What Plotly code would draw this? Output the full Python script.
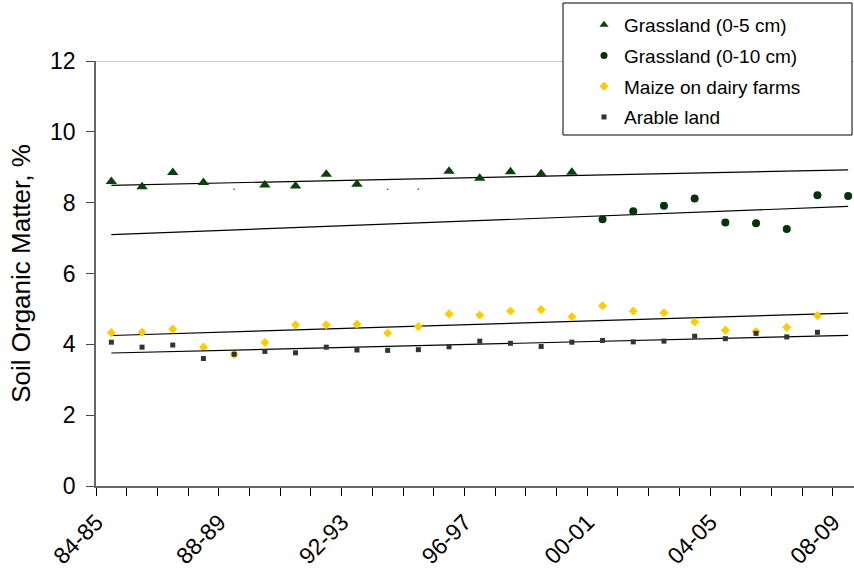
import numpy as np
import plotly.graph_objects as go

seasons = ["84-85", "85-86", "86-87", "87-88", "88-89", "89-90", "90-91", "91-92",
           "92-93", "93-94", "94-95", "95-96", "96-97", "97-98", "98-99", "99-00",
           "00-01", "01-02", "02-03", "03-04", "04-05", "05-06", "06-07", "07-08", "08-09"]
label_every = ["84-85", "88-89", "92-93", "96-97", "00-01", "04-05", "08-09"]

grass5 = [8.60, 8.45, 8.85, 8.57, 8.38, 8.50, 8.47, 8.80, 8.52, 8.38, 8.38, 8.89,
          8.69, 8.87, 8.82, 8.86] + [None] * 9
grass5_faint = [False, False, False, False, True, False, False, False, False, True, True,
                False, False, False, False, False]
grass10 = [None] * 16 + [7.53, 7.76, 7.91, 8.12, 7.44, 7.42, 7.26, 8.21, 8.19]
maize = [4.33, 4.34, 4.43, 3.92, 3.72, 4.05, 4.55, 4.55, 4.57, 4.32, 4.50, 4.86,
         4.83, 4.94, 4.98, 4.78, 5.09, 4.94, 4.89, 4.63, 4.40, 4.36, 4.48, 4.81, None]
arable = [4.06, 3.92, 3.98, 3.60, 3.72, 3.80, 3.76, 3.92, 3.84, 3.83, 3.85, 3.93,
          4.09, 4.03, 3.94, 4.06, 4.11, 4.07, 4.09, 4.23, 4.16, 4.31, 4.21, 4.34, None]

names = ["Grassland (0-5 cm)", "Grassland (0-10 cm)", "Maize on dairy farms", "Arable land"]
colors = ["#0a430a", "#043408", "#FFCC00", "#333333"]
symbols = ["triangle-up", "circle", "diamond", "square"]
sizes = [10, 8, 7, 5]
legend_sizes = [8, 7, 7, 5]

FONT = "Arial, 'Liberation Sans', sans-serif"
idx = list(range(len(seasons)))

fig = go.Figure()

series = [grass5, grass10, maize, arable]
for k, ys in enumerate(series):
    xs = [i for i, v in enumerate(ys) if v is not None]
    vs = [v for v in ys if v is not None]
    # linear trendline across all seasons
    slope, icpt = np.polyfit(xs, vs, 1)
    fig.add_trace(go.Scatter(x=idx, y=[icpt + slope * i for i in idx], mode="lines",
                             line=dict(color="black", width=1.2), showlegend=False,
                             hoverinfo="skip"))
    if k == 0:
        msize = [2 if f else sizes[0] for f in grass5_faint]
        mcol = ["#333333" if f else colors[0] for f in grass5_faint]
    else:
        msize = sizes[k]
        mcol = colors[k]
    fig.add_trace(go.Scatter(x=xs, y=vs, mode="markers", showlegend=False,
                             marker=dict(symbol=symbols[k], size=msize, color=mcol,
                                         opacity=1, line=dict(width=0)),
                             cliponaxis=False))

for k in range(4):
    fig.add_trace(go.Scatter(x=[None], y=[None], mode="markers", name=names[k],
                             legendgroup=names[k],
                             marker=dict(symbol=symbols[k], size=legend_sizes[k],
                                         color=colors[k], opacity=1, line=dict(width=0))))

L, R, T, B = 96, 0, 61, 88
W, H = 854, 574
pw = W - L - R
ph = H - T - B
spacing = 30.7

def px(x):
    return (x - L) / pw

def py(y):
    return (H - B - y) / ph

fig.add_shape(type="line", xref="x domain", yref="y", x0=0, x1=1, y0=12, y1=12,
              line=dict(color="#9a9a9a", width=1), layer="below")
fig.add_shape(type="rect", xref="paper", yref="paper", x0=px(563), x1=px(852),
              y0=py(135), y1=py(3), line=dict(color="black", width=1),
              fillcolor="white", layer="above")

fig.update_layout(
    width=W, height=H,
    margin=dict(l=L, r=R, t=T, b=B, pad=0),
    paper_bgcolor="white", plot_bgcolor="white",
    font=dict(family=FONT, color="black"),
    showlegend=True,
    legend=dict(x=px(584), y=py(6), xanchor="left", yanchor="top",
                font=dict(family=FONT, size=19, color="black"),
                bgcolor="rgba(0,0,0,0)", borderwidth=0,
                tracegroupgap=3, traceorder="grouped"),
    xaxis=dict(range=[-0.5, -0.5 + pw / spacing], showgrid=False, zeroline=False,
               showline=True, linecolor="#666666", linewidth=1.5,
               tickmode="array", tickvals=[seasons.index(s) for s in label_every],
               ticktext=label_every, ticks="", tickangle=-45,
               ticklabelstandoff=12, ticklabelshift=-15, ticklabeloverflow="allow",
               tickfont=dict(family=FONT, size=23, color="black"),
               minor=dict(tickmode="linear", tick0=-0.5, dtick=1, ticks="outside",
                          ticklen=8, tickcolor="black", tickwidth=1, showgrid=False)),
    yaxis=dict(range=[0, 12], tickvals=[0, 2, 4, 6, 8, 10, 12], showgrid=False,
               zeroline=False, showline=True, linecolor="#666666", linewidth=1.5,
               ticks="outside", ticklen=8, tickcolor="#444444", tickwidth=1,
               ticklabelstandoff=6,
               tickfont=dict(family=FONT, size=23, color="black"),
               title=dict(text="Soil Organic Matter, %", standoff=12,
                          font=dict(family=FONT, size=26, color="black"))),
)

fig.write_html("out.html")
